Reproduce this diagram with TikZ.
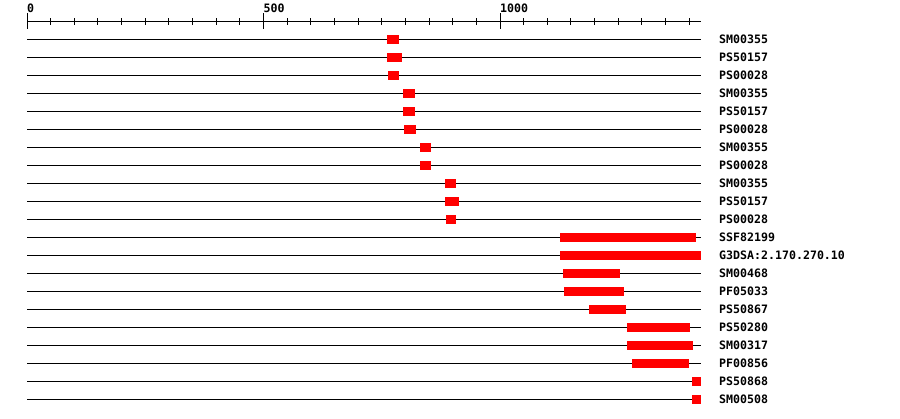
\documentclass[tikz,border=0pt]{standalone}
\usepackage{fontspec}
\setmonofont{DejaVu Sans Mono}
\usepackage{tikz}
\usetikzlibrary{positioning}

\begin{document}
\begin{tikzpicture}[x=1pt, y=-1pt,
    track/.style={line width=1pt},
    hit/.style={fill=red, draw=none},
    dom/.style={font=\ttfamily\bfseries\fontsize{11.6}{12}\selectfont, inner sep=0pt, anchor=west}]
    % Cadre de l'image (900 x 418)
    \useasboundingbox (0,0) rectangle (900,418);

    \begin{scope}[xshift=27pt, x=0.473pt]
        % Règle en haut avec graduations tous les 50
        \coordinate (r0) at (0,21);
        \coordinate (rEnd) at (1425,21);
        \draw[track] (r0) -- (rEnd);
        \foreach \t in {50,100,...,1400}
            \draw[line width=1pt] (\t,18) -- (\t,25);
        \foreach \t in {0,500,1000} {
            \draw[line width=1pt] (\t,13) -- (\t,29);
            \node[dom, anchor=base west] (tick\t) at (\t,12) {\t};
        }

        % Une ligne par domaine, avec son nom à droite
        \foreach \lab [count=\i] in {SM00355, PS50157, PS00028, SM00355, PS50157,
                PS00028, SM00355, PS00028, SM00355, PS50157, PS00028, SSF82199,
                G3DSA:2.170.270.10, SM00468, PF05033, PS50867, PS50280, SM00317,
                PF00856, PS50868, SM00508} {
            \pgfmathsetmacro{\yy}{21+18*\i}
            \coordinate (s\i) at (0,\yy);
            \coordinate (e\i) at (1425,\yy);
            \draw[track] (s\i) -- (e\i);
            \node[dom] (lab\i) at ([xshift=18pt]e\i) {\lab};
        }

        % Les domaines (rectangles rouges)
        \foreach \i/\a/\b in {1/761/786, 2/761/793, 3/763/786, 4/795/820,
                5/795/820, 6/797/822, 7/831/854, 8/831/854, 9/884/907,
                10/884/913, 11/886/907, 12/1127/1414, 13/1127/1425,
                14/1133/1254, 15/1135/1262, 16/1188/1266, 17/1268/1402,
                18/1268/1408, 19/1279/1400, 20/1406/1425, 21/1406/1425}
            \fill[hit] ([yshift=-4.5pt]s\i -| \a,0) rectangle ([yshift=4.5pt]s\i -| \b,0);
    \end{scope}
\end{tikzpicture}
\end{document}
